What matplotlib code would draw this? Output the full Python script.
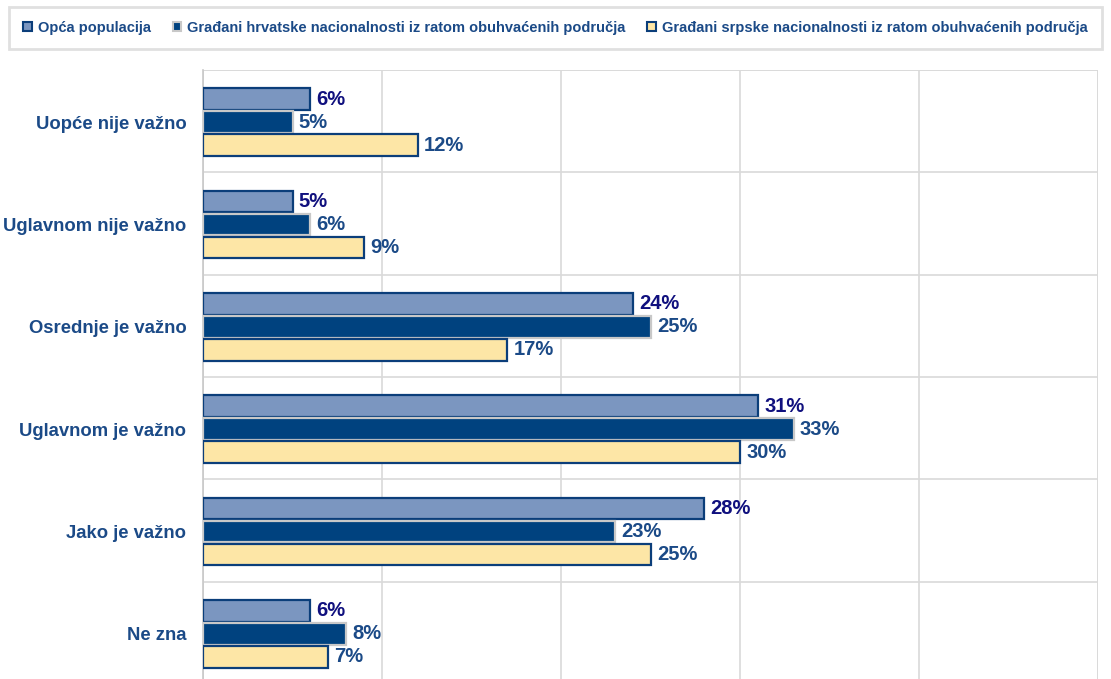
import matplotlib
matplotlib.use("Agg")
import matplotlib.pyplot as plt
from matplotlib.patches import Patch

plt.rcParams['font.family'] = ['Liberation Sans', 'DejaVu Sans']

categories = ["Uopće nije važno", "Uglavnom nije važno", "Osrednje je važno",
              "Uglavnom je važno", "Jako je važno", "Ne zna"]
series_names = ["Opća populacija",
                "Građani hrvatske nacionalnosti iz ratom obuhvaćenih područja",
                "Građani srpske nacionalnosti iz ratom obuhvaćenih područja"]
opca = [6, 5, 24, 31, 28, 6]
hrvatske = [5, 6, 25, 33, 23, 8]
srpske = [12, 9, 17, 30, 25, 7]

fills = ["#7B96C0", "#00427F", "#FDE6A6"]
edges = ["#0B3E7A", "#C8C8C8", "#0B3E7A"]
label_cols = ["#10107E", "#1B4A87", "#1B4A87"]
text_col = "#1B4A87"

fig = plt.figure(figsize=(11.11, 6.79), dpi=100)
ax = fig.add_axes([203 / 1111, -5 / 679, 895 / 1111, 614 / 679])

offsets = [-0.225, 0.0, 0.225]
for k, vals in enumerate([opca, hrvatske, srpske]):
    ys = [i + 0.51 + offsets[k] for i in range(len(categories))]
    ax.barh(ys, vals, height=0.21, color=fills[k], edgecolor=edges[k],
            linewidth=1.6, zorder=3)
    for y, v in zip(ys, vals):
        ax.text(v + 0.35, y, f"{v}%", va="center", ha="left", fontsize=14.5,
                fontweight="bold", color=label_cols[k], zorder=4)

ax.set_xlim(0, 50)
ax.set_ylim(6, 0)
ax.set_xticks(range(0, 51, 10))
ax.set_yticks(range(0, 7), minor=False)
ax.set_yticklabels([])
ax.set_yticks([i + 0.51 for i in range(len(categories))], minor=True)
ax.set_yticklabels(categories, minor=True, fontsize=13.3, fontweight="bold",
                   color=text_col)
ax.tick_params(axis="y", which="both", length=0, pad=12)
ax.tick_params(axis="x", length=0, labelbottom=False)
ax.grid(True, which="major", color="#D9D9D9", linewidth=1.2, zorder=0)
for s in ["top", "right", "bottom"]:
    ax.spines[s].set_visible(False)
ax.spines["left"].set_color("#C8C8C8")
ax.spines["left"].set_linewidth(1.2)
ax.axhline(0, color="#D9D9D9", linewidth=1.2, zorder=0)
ax.axvline(50, color="#D9D9D9", linewidth=1.2, zorder=0)

handles = [Patch(facecolor=fills[k], edgecolor=edges[k], linewidth=1.5)
           for k in range(3)]
leg = fig.legend(handles, series_names, loc="upper center", ncol=3,
                 bbox_to_anchor=(0.5, 1 - 7 / 679), borderaxespad=0,
                 frameon=True, fancybox=False,
                 fontsize=10.5, handlelength=0.6, handleheight=0.6,
                 handletextpad=0.4, columnspacing=1.5, borderpad=0.95)
leg.get_frame().set_edgecolor("#D9D9D9")
leg.get_frame().set_linewidth(2)
for t in leg.get_texts():
    t.set_color(text_col)
    t.set_fontweight("bold")

fig.savefig("out.png", dpi=100)
